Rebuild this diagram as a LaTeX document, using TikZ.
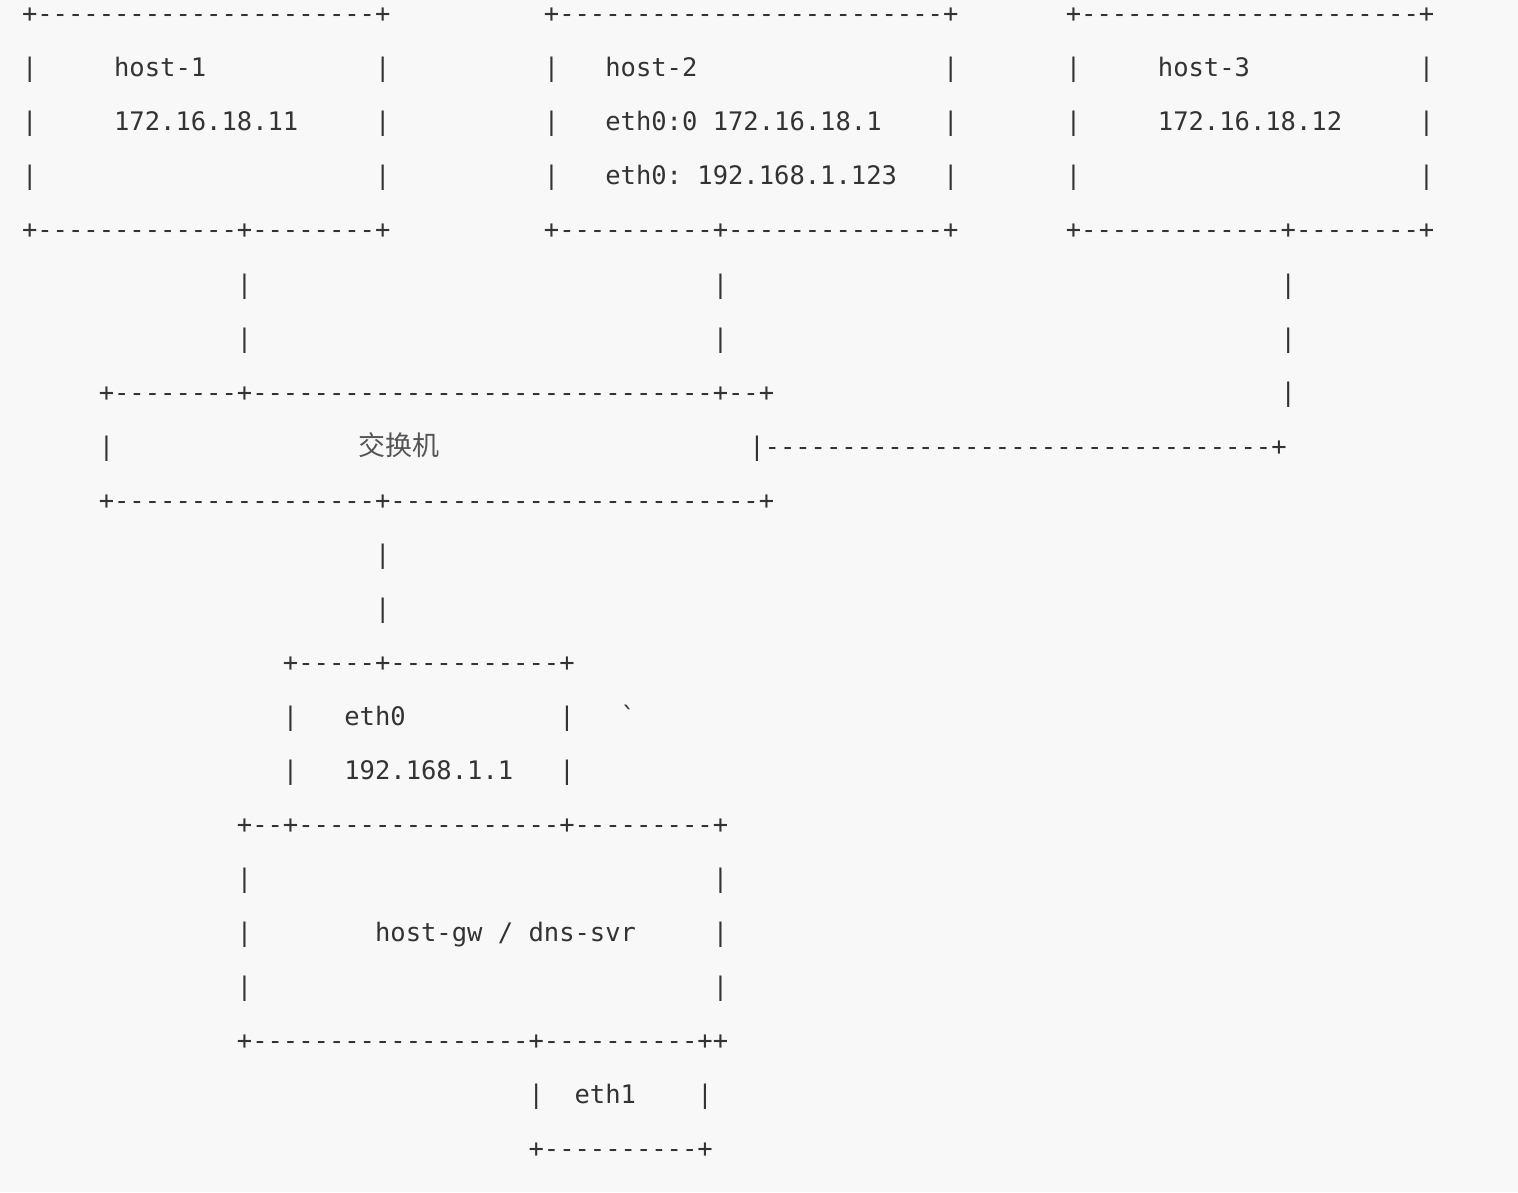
\documentclass[tikz,border=0pt]{standalone}
\usepackage{fontspec}
\setmonofont{DejaVu Sans Mono}
\newfontfamily\cjk{Noto Sans CJK SC}

\definecolor{paper}{RGB}{248,248,248}
\definecolor{ink}{RGB}{51,51,51}
\definecolor{cjkink}{RGB}{85,85,85}

% a run of n dashes
\newcommand{\hr}[1]{\foreach \k in {1,...,#1}{-}}
% text column / text row -> picture units (one unit = one pixel)
\newcommand{\colx}[1]{22+15.35*#1}
\newcommand{\rowy}[1]{23+54*#1}

\tikzset{
    ascii/.style={anchor=base west, inner sep=0pt, outer sep=0pt, text=ink,
        font=\ttfamily\fontsize{12.75}{12.75}\selectfont},
    hanzi/.style={anchor=base west, inner sep=0pt, outer sep=0pt, text=cjkink,
        font=\cjk\fontsize{13.5}{13.5}\selectfont}
}

\begin{document}
\begin{tikzpicture}[x=0.5pt,y=-0.5pt]

\fill[paper] (0,0) rectangle (1518,1192);
\useasboundingbox (0,0) rectangle (1518,1192);

% the three hosts
\node[ascii] (h1top) at ({\colx{0}},{\rowy{0}}) {+\hr{22}+};
\node[ascii] (h2top) at ({\colx{34}},{\rowy{0}}) {+\hr{25}+};
\node[ascii] (h3top) at ({\colx{68}},{\rowy{0}}) {+\hr{22}+};

    \foreach \r in {1,2,3} {
        \foreach \c in {0,23,34,60,68,91} {
            \node[ascii] (bar-\r-\c) at ({\colx{\c}},{\rowy{\r}}) {|};
        }
    }

\node[ascii] (h1name) at ({\colx{6}},{\rowy{1}}) {host-1};
\node[ascii] (h1ip) at ({\colx{6}},{\rowy{2}}) {172.16.18.11};
\node[ascii] (h2name) at ({\colx{38}},{\rowy{1}}) {host-2};
\node[ascii] (h2alias) at ({\colx{38}},{\rowy{2}}) {eth0:0 172.16.18.1};
\node[ascii] (h2ip) at ({\colx{38}},{\rowy{3}}) {eth0: 192.168.1.123};
\node[ascii] (h3name) at ({\colx{74}},{\rowy{1}}) {host-3};
\node[ascii] (h3ip) at ({\colx{74}},{\rowy{2}}) {172.16.18.12};

\node[ascii] (h1bot) at ({\colx{0}},{\rowy{4}}) {+\hr{13}+\hr{8}+};
\node[ascii] (h2bot) at ({\colx{34}},{\rowy{4}}) {+\hr{10}+\hr{14}+};
\node[ascii] (h3bot) at ({\colx{68}},{\rowy{4}}) {+\hr{13}+\hr{8}+};

% host links down to the switch
    \foreach \r in {5,6} {
        \foreach \c in {14,45,82} {
            \node[ascii] (up-\r-\c) at ({\colx{\c}},{\rowy{\r}}) {|};
        }
    }
\node[ascii] (up-7-82) at ({\colx{82}},{\rowy{7}}) {|};

% switch
\node[ascii] (swtop) at ({\colx{5}},{\rowy{7}}) {+\hr{8}+\hr{30}+\hr{2}+};
\node[ascii] (swleft) at ({\colx{5}},{\rowy{8}}) {|};
\node[hanzi] (swname) at (358,{\rowy{8}}) {交换机};
\node[ascii] (swright) at (749.3,{\rowy{8}}) {|\hr{33}+};
\node[ascii] (swbot) at ({\colx{5}},{\rowy{9}}) {+\hr{17}+\hr{24}+};

    \foreach \r in {10,11} {
        \node[ascii] (down-\r) at ({\colx{23}},{\rowy{\r}}) {|};
    }

% eth0 of the gateway
\node[ascii] (e0top) at ({\colx{17}},{\rowy{12}}) {+\hr{5}+\hr{11}+};
\node[ascii] (e0l1) at ({\colx{17}},{\rowy{13}}) {|};
\node[ascii] (e0name) at ({\colx{21}},{\rowy{13}}) {eth0};
\node[ascii] (e0r1) at ({\colx{35}},{\rowy{13}}) {|};
\node[ascii] (tick) at ({\colx{39}},{\rowy{13}}) {`};
\node[ascii] (e0l2) at ({\colx{17}},{\rowy{14}}) {|};
\node[ascii] (e0ip) at ({\colx{21}},{\rowy{14}}) {192.168.1.1};
\node[ascii] (e0r2) at ({\colx{35}},{\rowy{14}}) {|};

% gateway / dns server
\node[ascii] (gwtop) at ({\colx{14}},{\rowy{15}}) {+\hr{2}+\hr{17}+\hr{9}+};
    \foreach \r in {16,17,18} {
        \node[ascii] (gwl-\r) at ({\colx{14}},{\rowy{\r}}) {|};
        \node[ascii] (gwr-\r) at ({\colx{45}},{\rowy{\r}}) {|};
    }
\node[ascii] (gwname) at ({\colx{23}},{\rowy{17}}) {host-gw / dns-svr};
\node[ascii] (gwbot) at ({\colx{14}},{\rowy{19}}) {+\hr{18}+\hr{10}++};

% eth1
\node[ascii] (e1left) at ({\colx{33}},{\rowy{20}}) {|};
\node[ascii] (e1name) at ({\colx{36}},{\rowy{20}}) {eth1};
\node[ascii] (e1right) at ({\colx{44}},{\rowy{20}}) {|};
\node[ascii] (e1bot) at ({\colx{33}},{\rowy{21}}) {+\hr{10}+};

\end{tikzpicture}
\end{document}
